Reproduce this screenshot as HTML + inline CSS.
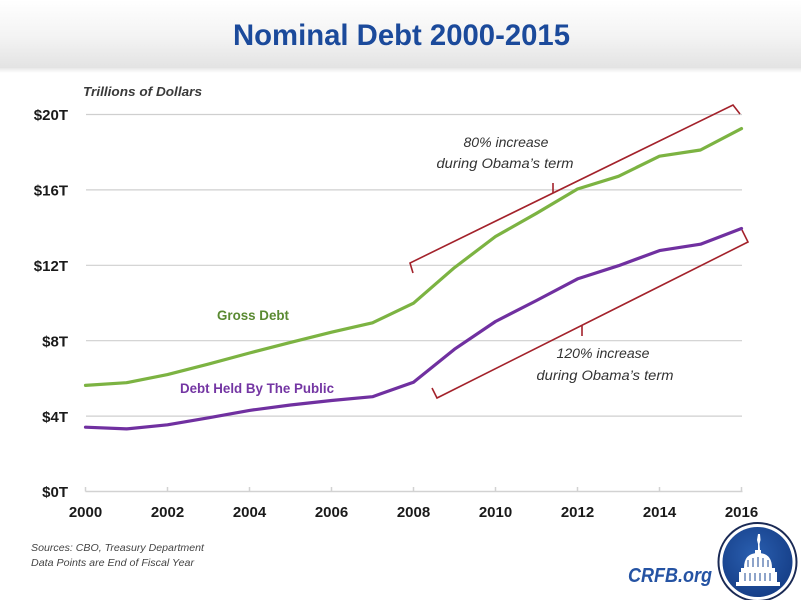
<!DOCTYPE html>
<html>
<head>
<meta charset="utf-8">
<style>
  html, body { margin:0; padding:0; background:#fff; }
  body { width:801px; height:600px; overflow:hidden; }
  svg { display:block; }
</style>
</head>
<body>
<svg width="801" height="600" viewBox="0 0 801 600" xmlns="http://www.w3.org/2000/svg">
  <defs>
    <linearGradient id="hdr" x1="0" y1="0" x2="0" y2="1">
      <stop offset="0" stop-color="#ffffff"/>
      <stop offset="0.55" stop-color="#f3f3f3"/>
      <stop offset="1" stop-color="#e3e3e3"/>
    </linearGradient>
    <linearGradient id="shadow" x1="0" y1="0" x2="0" y2="1">
      <stop offset="0" stop-color="#e8e8e8"/>
      <stop offset="1" stop-color="#ffffff"/>
    </linearGradient>
    <radialGradient id="logo" cx="0.45" cy="0.4" r="0.7">
      <stop offset="0" stop-color="#2a5fb0"/>
      <stop offset="1" stop-color="#133a82"/>
    </radialGradient>
  </defs>

  <!-- header -->
  <rect x="0" y="0" width="801" height="68" fill="url(#hdr)"/>
  <rect x="0" y="68" width="801" height="5" fill="url(#shadow)"/>
  <text x="233" y="45" font-family="Liberation Sans, sans-serif" font-weight="bold" font-size="30" fill="#1b4a9b" textLength="337" lengthAdjust="spacingAndGlyphs">Nominal Debt 2000-2015</text>

  <!-- axis title -->
  <text x="83" y="96" font-family="Liberation Sans, sans-serif" font-style="italic" font-weight="bold" font-size="12.5" fill="#3a3a3a" textLength="119" lengthAdjust="spacingAndGlyphs">Trillions of Dollars</text>

  <!-- gridlines -->
  <g stroke="#cfcfcf" stroke-width="1.2">
    <line x1="86" y1="114.5" x2="742" y2="114.5"/>
    <line x1="86" y1="189.9" x2="742" y2="189.9"/>
    <line x1="86" y1="265.3" x2="742" y2="265.3"/>
    <line x1="86" y1="340.7" x2="742" y2="340.7"/>
    <line x1="86" y1="416.1" x2="742" y2="416.1"/>
  </g>
  <!-- x axis -->
  <g stroke="#d2d2d2" stroke-width="1.5">
    <line x1="85.5" y1="491.5" x2="742.5" y2="491.5"/>
    <line x1="85.5" y1="487" x2="85.5" y2="491.5"/>
    <line x1="167.5" y1="487" x2="167.5" y2="491.5"/>
    <line x1="249.5" y1="487" x2="249.5" y2="491.5"/>
    <line x1="331.5" y1="487" x2="331.5" y2="491.5"/>
    <line x1="413.5" y1="487" x2="413.5" y2="491.5"/>
    <line x1="495.5" y1="487" x2="495.5" y2="491.5"/>
    <line x1="577.5" y1="487" x2="577.5" y2="491.5"/>
    <line x1="659.5" y1="487" x2="659.5" y2="491.5"/>
    <line x1="741.5" y1="487" x2="741.5" y2="491.5"/>
  </g>

  <!-- y labels -->
  <g font-family="Liberation Sans, sans-serif" font-weight="bold" font-size="15" fill="#1a1a1a" text-anchor="end">
    <text x="68" y="120">$20T</text>
    <text x="68" y="195.5">$16T</text>
    <text x="68" y="271">$12T</text>
    <text x="68" y="346.5">$8T</text>
    <text x="68" y="422">$4T</text>
    <text x="68" y="497">$0T</text>
  </g>

  <!-- x labels -->
  <g font-family="Liberation Sans, sans-serif" font-weight="bold" font-size="15" fill="#1a1a1a" text-anchor="middle">
    <text x="85.5" y="517">2000</text>
    <text x="167.5" y="517">2002</text>
    <text x="249.5" y="517">2004</text>
    <text x="331.5" y="517">2006</text>
    <text x="413.5" y="517">2008</text>
    <text x="495.5" y="517">2010</text>
    <text x="577.5" y="517">2012</text>
    <text x="659.5" y="517">2014</text>
    <text x="741.5" y="517">2016</text>
  </g>

  <!-- series -->
  <polyline fill="none" stroke="#7cb342" stroke-width="3.2" stroke-linejoin="round" stroke-linecap="round"
    points="85.5,385.4 126.5,382.7 167.5,374.6 208.5,364.1 249.5,353.0 290.5,342.4 331.5,332.2 372.5,322.8 413.5,303.2 454.5,267.6 495.5,236.5 536.5,213.3 577.5,189.0 618.5,176.3 659.5,156.2 700.5,150.0 741.5,128.6"/>
  <polyline fill="none" stroke="#7030a0" stroke-width="3.2" stroke-linejoin="round" stroke-linecap="round"
    points="85.5,427.2 126.5,428.9 167.5,424.8 208.5,417.8 249.5,410.4 290.5,405.0 331.5,400.5 372.5,396.7 413.5,382.2 454.5,349.2 495.5,321.5 536.5,300.5 577.5,278.9 618.5,265.7 659.5,250.6 700.5,244.2 741.5,228.5"/>

  <!-- series labels -->
  <text x="253" y="320" font-family="Liberation Sans, sans-serif" font-weight="bold" font-size="13.5" fill="#5a8a32" text-anchor="middle" textLength="72" lengthAdjust="spacingAndGlyphs">Gross Debt</text>
  <text x="257" y="393" font-family="Liberation Sans, sans-serif" font-weight="bold" font-size="13.5" fill="#7436a3" text-anchor="middle" textLength="154" lengthAdjust="spacingAndGlyphs">Debt Held By The Public</text>

  <!-- brackets -->
  <g fill="none" stroke="#a3222b" stroke-width="1.6" stroke-linejoin="miter">
    <polyline points="413,273 410,263 733,105 740,114"/>
    <line x1="553" y1="193" x2="553" y2="183"/>
    <polyline points="432,388 437,398 748,242 742,230"/>
    <line x1="582" y1="325.6" x2="582" y2="336"/>
  </g>

  <!-- annotations -->
  <g font-family="Liberation Sans, sans-serif" font-style="italic" font-size="13.5" fill="#333" text-anchor="middle">
    <text x="506" y="147" textLength="85" lengthAdjust="spacingAndGlyphs">80% increase</text>
    <text x="505" y="168" textLength="137" lengthAdjust="spacingAndGlyphs">during Obama’s term</text>
    <text x="603" y="358" textLength="93" lengthAdjust="spacingAndGlyphs">120% increase</text>
    <text x="605" y="380" textLength="137" lengthAdjust="spacingAndGlyphs">during Obama’s term</text>
  </g>

  <!-- sources -->
  <g font-family="Liberation Sans, sans-serif" font-style="italic" font-size="10.5" fill="#444">
    <text x="31" y="551" textLength="173" lengthAdjust="spacingAndGlyphs">Sources:  CBO, Treasury  Department</text>
    <text x="31" y="566" textLength="163" lengthAdjust="spacingAndGlyphs">Data Points  are End of Fiscal  Year</text>
  </g>

  <!-- CRFB.org -->
  <text x="628" y="582" font-family="Liberation Sans, sans-serif" font-style="italic" font-weight="bold" font-size="20" fill="#2553a3" textLength="84" lengthAdjust="spacingAndGlyphs">CRFB.org</text>

  <!-- logo -->
  <circle cx="757.5" cy="562" r="39" fill="#ffffff" stroke="#1a2a55" stroke-width="2"/>
  <circle cx="757.5" cy="562" r="35" fill="url(#logo)"/>
  <g fill="#ffffff">
    <path d="M758,534 l2,0 l0.5,6 l-1,4 l0.5,6 l-2,0 l0,-6 l-1,-4 z"/>
    <rect x="755" y="550" width="6" height="4"/>
    <path d="M744,568 Q744,553 758,553 Q772,553 772,568 z"/>
    <rect x="741" y="568" width="34" height="4"/>
    <rect x="739" y="572" width="38" height="10"/>
    <rect x="736" y="582" width="44" height="4"/>
  </g>
  <g stroke="#1d4a95" stroke-width="1">
    <line x1="745" y1="573" x2="745" y2="581"/>
    <line x1="750" y1="573" x2="750" y2="581"/>
    <line x1="755" y1="573" x2="755" y2="581"/>
    <line x1="760" y1="573" x2="760" y2="581"/>
    <line x1="765" y1="573" x2="765" y2="581"/>
    <line x1="770" y1="573" x2="770" y2="581"/>
    <line x1="748" y1="560" x2="748" y2="567"/>
    <line x1="753" y1="558" x2="753" y2="567"/>
    <line x1="758" y1="557" x2="758" y2="567"/>
    <line x1="763" y1="558" x2="763" y2="567"/>
    <line x1="768" y1="560" x2="768" y2="567"/>
  </g>
</svg>
</body>
</html>
